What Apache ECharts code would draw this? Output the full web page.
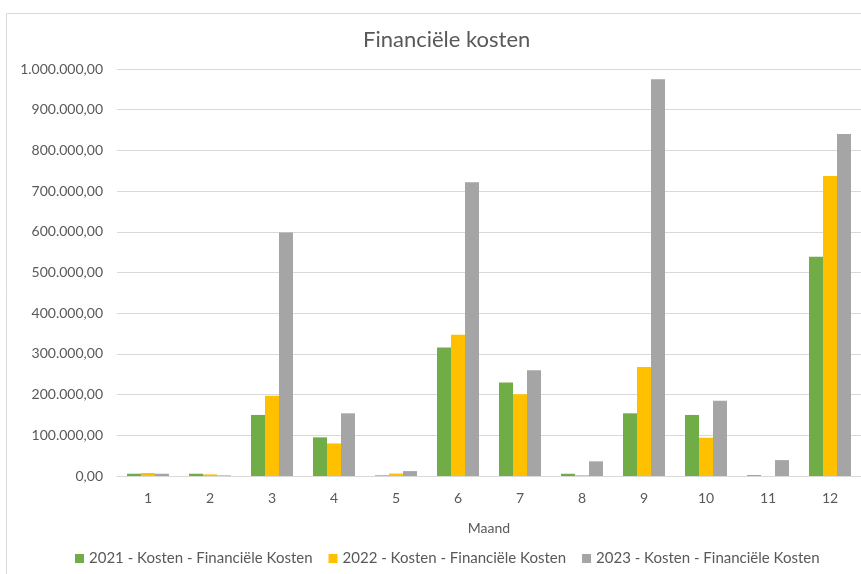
<!DOCTYPE html>
<html>
<head>
<meta charset="utf-8">
<script src="https://cdn.jsdelivr.net/npm/echarts@6/dist/echarts.min.js"></script>
<style>
html, body { margin: 0; padding: 0; background: #fff; }
#chart { width: 861px; height: 574px; }
</style>
</head>
<body>
<div id="chart"></div>
<script>
var maanden = ['1', '2', '3', '4', '5', '6', '7', '8', '9', '10', '11', '12'];
var kosten2021 = [5600, 5600, 150000, 95000, 1500, 316000, 230000, 5500, 154000, 150000, 2000, 539000];
var kosten2022 = [7400, 4000, 197000, 80000, 6000, 347000, 201000, 2000, 268000, 94000, 0, 737000];
var kosten2023 = [5600, 1500, 598000, 154000, 12000, 722000, 260000, 36000, 975000, 185000, 39000, 840000];

var fontFam = 'Lato, "Noto Sans", sans-serif';
var textColor = '#595959';

// nl-NL getalnotatie: 1.000.000,00
function nlFormat(v) {
	var parts = Number(v).toFixed(2).split('.');
	var intPart = parts[0].replace(/\B(?=(\d{3})+(?!\d))/g, '.');
	return intPart + ',' + parts[1];
}

function makeSeries(name, data, color) {
	return {
		name : name,
		type : 'bar',
		data : data,
		barWidth : 14,
		barGap : '0%',
		itemStyle : {
			color : color
		}
	};
}

var option = {
	backgroundColor : '#fff',
	animation : false,
	textStyle : {
		fontFamily : fontFam
	},
	title : {
		text : 'Financiële kosten',
		left : 358,
		top : 24,
		textStyle : {
			color : textColor,
			fontSize : 22,
			fontWeight : 'normal',
			fontFamily : fontFam
		}
	},
	graphic : [ {
		type : 'rect',
		shape : { x : 6.5, y : 13.5, width : 900, height : 600 },
		style : { fill : 'none', stroke : '#d9d9d9', lineWidth : 1 },
		silent : true
	} ],
	grid : {
		left : 117,
		right : 0,
		top : 69,
		bottom : 98
	},
	legend : {
		bottom : 3,
		left : 70,
		itemWidth : 9,
		itemHeight : 9,
		itemGap : 16,
		icon : 'rect',
		textStyle : {
			color : textColor,
			fontSize : 15,
			fontFamily : fontFam
		}
	},
	xAxis : {
		type : 'category',
		data : maanden,
		name : 'Maand',
		nameLocation : 'middle',
		nameGap : 45,
		nameTextStyle : {
			color : textColor,
			fontSize : 14,
			fontFamily : fontFam
		},
		axisLine : {
			lineStyle : { color : '#d9d9d9' }
		},
		axisTick : { show : false },
		axisLabel : {
			color : textColor,
			fontSize : 14,
			margin : 15,
			fontFamily : fontFam
		}
	},
	yAxis : {
		type : 'value',
		min : 0,
		max : 1000000,
		interval : 100000,
		axisLine : { show : false },
		axisTick : { show : false },
		axisLabel : {
			color : textColor,
			fontSize : 14,
			margin : 14,
			fontFamily : fontFam,
			formatter : nlFormat
		},
		splitLine : {
			lineStyle : { color : '#d9d9d9' }
		}
	},
	series : [
		makeSeries('2021 - Kosten - Financiële Kosten', kosten2021, '#70AD47'),
		makeSeries('2022 - Kosten - Financiële Kosten', kosten2022, '#FFC000'),
		makeSeries('2023 - Kosten - Financiële Kosten', kosten2023, '#A5A5A5')
	]
};

var myChart = echarts.init(document.getElementById('chart'));
myChart.setOption(option);
</script>
</body>
</html>
